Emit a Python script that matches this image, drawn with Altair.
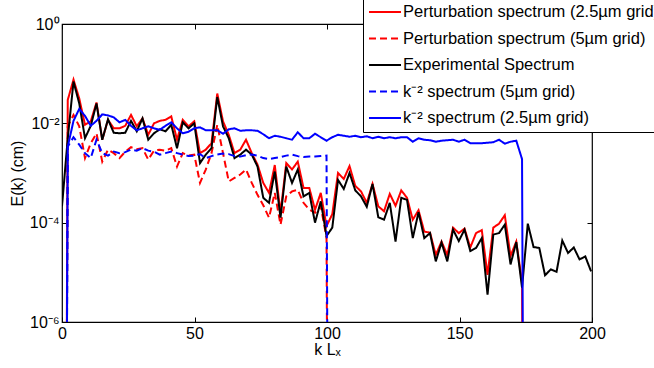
import altair as alt
import pandas as pd

# wavenumber grid k*Lx (read from vertex spacing)
K = [0, 2.17, 4.34, 6.51, 8.68, 10.85, 13.02, 15.19, 17.36, 19.53,
     21.7, 23.87, 26.04, 28.21, 30.38, 32.55, 34.72, 36.89, 39.06, 41.23,
     43.4, 45.57, 47.74, 49.91, 52.08, 54.25, 56.42, 58.59, 60.76, 62.93,
     65.1, 67.27, 69.44, 71.61, 73.78, 75.95, 78.12, 80.29, 82.46, 84.63,
     86.8, 88.97, 91.14, 93.31, 95.48, 97.65, 99.82, 101.99, 104.16, 106.33,
     108.5, 110.67, 112.84, 115.01, 117.18, 119.35, 121.52, 123.69, 125.86, 128.03,
     130.2, 132.37, 134.54, 136.71, 138.88, 141.05, 143.22, 145.39, 147.56, 149.73,
     151.9, 154.07, 156.24, 158.41, 160.58, 162.75, 164.92, 167.09, 169.26, 171.43,
     173.6, 175.77, 177.94, 180.11, 182.28, 184.45, 186.62, 188.79, 190.96, 193.13,
     195.3, 197.47, 199.64]

# log10 E(k) readings per series (-30 = far below the axis, i.e. zero energy)
pert25_log = [-30, -1.53, -1.12, -1.5, -2.03, -1.96, -1.58, -2.33, -1.93, -2.1,
              -2.1, -2.05, -1.83, -2.06, -1.9, -2.23, -2.0, -1.95, -1.93, -1.86,
              -2.33, -1.93, -2.06, -1.96, -2.6, -2.53, -2.4, -1.4, -1.96, -2.23,
              -2.6, -2.53, -2.33, -2.6, -2.83, -3.2, -3.4, -2.84, -3.8, -2.8,
              -2.93, -2.77, -3.3, -3.3, -3.74, -3.4, -4.07, -3.83, -3.0, -3.12,
              -2.86, -3.26, -3.37, -3.6, -3.22, -3.67, -3.77, -3.42, -3.66, -3.35,
              -3.5, -3.94, -3.75, -4.18, -4.2, -4.65, -4.38, -4.65, -4.1, -4.21,
              -4.12, -4.5, -4.21, -4.15, -5.05, -4.1, -4.02, -3.85, -4.67, -4.38,
              -5.2, -30]
pert5_log = [-30, -2.06, -1.83, -2.06, -2.7, -2.4, -2.2, -2.77, -2.53, -2.6,
             -2.7, -2.57, -2.48, -2.52, -2.5, -2.73, -2.55, -2.53, -2.55, -2.5,
             -2.87, -2.6, -2.65, -2.63, -3.2, -2.93, -2.6, -2.03, -2.6, -3.17,
             -3.1, -3.03, -2.93, -3.2, -3.44, -3.65, -3.9, -3.4, -4.04, -3.47,
             -3.37, -3.34, -3.6, -3.74, -3.8, -3.67, -4.3, -30]
exp_log = [-3.67, -2.3, -1.16, -1.6, -2.3, -2.05, -1.6, -2.33, -1.92, -2.19,
           -2.2, -2.19, -1.95, -2.16, -1.9, -2.33, -2.2, -2.12, -2.16, -2.03,
           -2.5, -1.98, -2.1, -2.0, -2.8, -2.63, -2.5, -1.47, -2.06, -2.3,
           -2.7, -2.63, -2.53, -2.63, -2.87, -3.5, -3.6, -2.97, -3.9, -2.87,
           -3.2, -2.93, -3.47, -3.4, -4.0, -3.57, -4.27, -4.1, -3.14, -3.32,
           -3.0, -3.35, -3.47, -3.68, -3.22, -3.89, -3.94, -3.6, -4.38, -3.5,
           -3.54, -4.31, -3.79, -4.31, -4.21, -4.78, -4.4, -4.78, -4.14, -4.37,
           -4.14, -4.57, -4.51, -4.31, -5.45, -4.24, -4.21, -4.04, -4.84, -4.39,
           -5.31, -4.02, -4.49, -4.51, -5.06, -4.94, -4.99, -4.36, -4.61, -4.5,
           -4.74, -4.68, -4.98]
km2_5_log = [-30, -2.47, -2.28, -2.43, -2.6, -2.7, -2.33, -2.6, -2.65, -2.57,
             -2.6, -2.58, -2.53, -2.55, -2.5, -2.55, -2.57, -2.63, -2.6, -2.57,
             -2.6, -2.63, -2.66, -2.65, -2.62, -2.7, -2.66, -2.63, -2.61, -2.62,
             -2.66, -2.67, -2.64, -2.63, -2.65, -2.7, -2.72, -2.7, -2.68, -2.65,
             -2.63, -2.66, -2.68, -2.67, -2.67, -2.66, -2.65, -30]
km2_25_log = [-30, -2.47, -1.95, -1.71, -1.85, -2.05, -1.95, -1.82, -1.84, -1.88,
              -1.98, -1.93, -2.05, -2.14, -2.1, -2.06, -2.1, -2.13, -2.05, -1.98,
              -2.1, -2.2, -2.17, -2.1, -2.08, -2.14, -2.14, -2.14, -2.21, -2.12,
              -2.1, -2.15, -2.14, -2.14, -2.15, -2.22, -2.3, -2.25, -2.27, -2.3,
              -2.33, -2.18, -2.3, -2.3, -2.21, -2.28, -2.35, -2.28, -2.23, -2.25,
              -2.27, -2.25, -2.28, -2.26, -2.3, -2.27, -2.3, -2.28, -2.3, -2.28,
              -2.28, -2.37, -2.3, -2.33, -2.34, -2.37, -2.35, -2.34, -2.33, -2.37,
              -2.33, -2.4, -2.4, -2.4, -2.39, -2.38, -2.33, -2.41, -2.37, -2.35,
              -2.72, -30]

names = ["Perturbation spectrum (2.5µm grid)", "Perturbation spectrum (5µm grid)",
         "Experimental Spectrum", "k⁻² spectrum (5µm grid)", "k⁻² spectrum (2.5µm grid)"]
series_logs = [pert25_log, pert5_log, exp_log, km2_5_log, km2_25_log]
colors = ["#ff0000", "#ff0000", "#000000", "#0000ff", "#0000ff"]
dashes = [[1, 0], [7, 4], [1, 0], [7, 4], [1, 0]]

rows = []
for name, vals in zip(names, series_logs):
    for n, v in enumerate(vals):
        rows.append({"k": K[n], "E": 10.0 ** v, "series": name, "n": n})
df = pd.DataFrame(rows)

FONT = "Liberation Sans"
xscale = alt.Scale(domain=[0, 200], nice=False, zero=False)
yscale = alt.Scale(type="log", domain=[1e-6, 1], nice=False)

legend = alt.Legend(
    title=None, orient="none", legendX=301, legendY=-26,
    symbolType="M-2,0H2", symbolSize=256, symbolStrokeWidth=2,
    labelFontSize=16.5, labelFont=FONT, labelColor="black", labelLimit=600,
    fillColor="white", strokeColor="black", padding=5, rowPadding=8.5,
    symbolOffset=8, labelOffset=9,
)
color = alt.Color("series:N", scale=alt.Scale(domain=names, range=colors), legend=legend)
dash = alt.StrokeDash("series:N", scale=alt.Scale(domain=names, range=dashes), legend=legend)

x_axis = alt.Axis(orient="bottom", values=[0, 50, 100, 150, 200], tickSize=5, offset=-5,
                  domain=False, grid=False, labelFontSize=16, labelPadding=3,
                  title="k Lₓ", titleFontSize=16, titleFontWeight="normal", titlePadding=0,
                  labelFlush=False)
y_axis = alt.Axis(orient="left", values=[1e-6, 1e-4, 1e-2, 1], tickSize=5, offset=-5,
                  domain=False, grid=False, labelFontSize=16, labelPadding=3,
                  labelExpr="datum.value > 0.5 ? '10⁰' : datum.value > 0.005 ? '10⁻²' : datum.value > 0.00005 ? '10⁻⁴' : '10⁻⁶'",
                  title="E(k) (cm)", titleFontSize=16, titleFontWeight="normal", titlePadding=4)

layers = []
for i, name in enumerate(names):
    layers.append(
        alt.Chart(df).transform_filter(alt.datum.series == name)
        .mark_line(strokeWidth=2, clip=True)
        .encode(
            x=alt.X("k:Q", scale=xscale, axis=x_axis if i == 0 else None),
            y=alt.Y("E:Q", scale=yscale, axis=y_axis if i == 0 else None),
            color=color, strokeDash=dash, order="n:Q",
        )
    )

frame = (
    alt.Chart(df).transform_filter(alt.datum.series == names[2])
    .mark_line(opacity=0)
    .encode(
        x=alt.X("k:Q", scale=xscale,
                axis=alt.Axis(orient="top", values=[0, 50, 100, 150, 200], tickSize=5, offset=-5,
                              domain=False, grid=False, labels=False, title=None)),
        y=alt.Y("E:Q", scale=yscale,
                axis=alt.Axis(orient="right", values=[1e-6, 1e-4, 1e-2, 1], tickSize=5, offset=-5,
                              domain=False, grid=False, labels=False, title=None)),
    )
)

chart = (
    alt.layer(*layers, frame)
    .resolve_axis(x="independent", y="independent")
    .properties(width=530, height=298,
                autosize=alt.AutoSizeParams(type="none"),
                padding={"left": 62, "top": 24, "right": 62, "bottom": 46})
    .configure(font=FONT)
    .configure_view(stroke="black", strokeWidth=1.2)
    .configure_axis(labelColor="black", titleColor="black", tickColor="black",
                    labelFont=FONT, titleFont=FONT)
)

chart.save("out.html", embed_options={"renderer": "svg", "actions": False})
